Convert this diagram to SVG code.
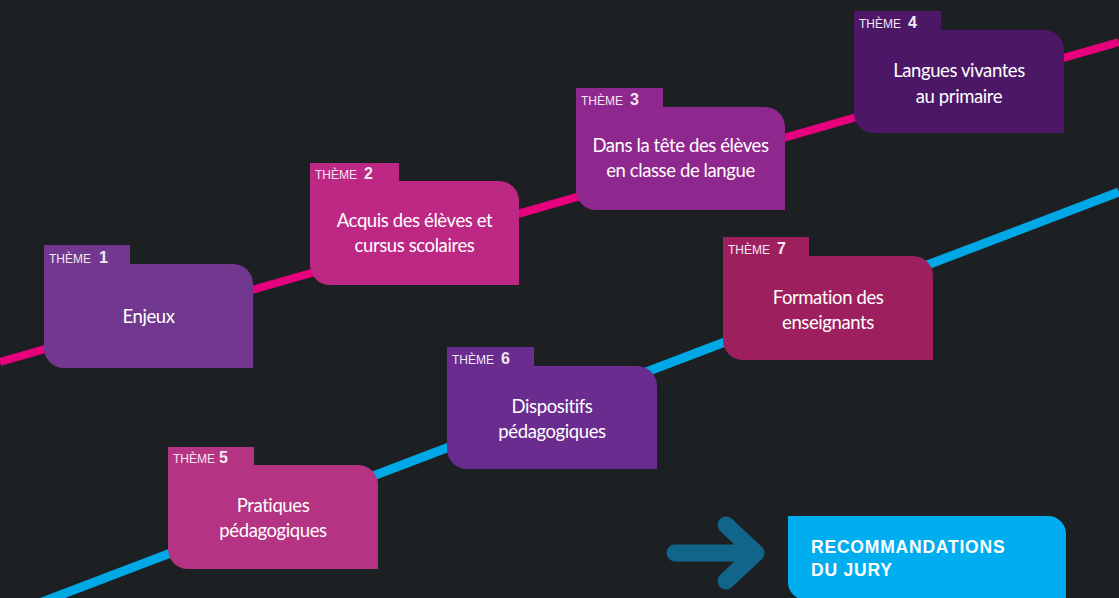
<svg xmlns="http://www.w3.org/2000/svg" width="1119" height="598" viewBox="0 0 1119 598">
<style>
.tab{font-family:"Liberation Sans",Arial,sans-serif;font-size:12px;fill:#f3e9f2}
.num{font-family:"Liberation Sans",Arial,sans-serif;font-size:16px;font-weight:bold;fill:#f3e9f2}
.title{font-family:Lato,"Liberation Sans",sans-serif;font-size:18.5px;fill:#ffffff;text-anchor:middle;letter-spacing:-0.4px}
.reco{font-family:"Liberation Sans",Arial,sans-serif;font-size:17.5px;font-weight:bold;fill:#ffffff;letter-spacing:0.8px}
</style>
<rect x="0" y="0" width="1119" height="598" fill="#1d2023"/>
<g id="connectors">
<line x1="0" y1="362" x2="1119" y2="42" stroke="#e6007e" stroke-width="8"/>
<line x1="0" y1="618" x2="1119" y2="192" stroke="#00a9e6" stroke-width="9"/>
<path d="M675,553 H754 M726,525 L756,553 L726,581" fill="none" stroke="#11658a" stroke-width="17" stroke-linecap="round" stroke-linejoin="round"/>
</g>
<g id="theme1">
<path d="M44,245 H130 V264 H233 A20,20 0 0 1 253,284 V368 H64 A20,20 0 0 1 44,348 Z" fill="#72378f"/>
<text class="tab" x="49" y="263">THÈME</text><text class="num" x="99" y="263">1</text>
<text class="title" x="148.5" y="323">Enjeux</text>
</g>
<g id="theme2">
<path d="M310,163 H399 V181 H499 A20,20 0 0 1 519,201 V285 H330 A20,20 0 0 1 310,265 Z" fill="#bd2885"/>
<text class="tab" x="315" y="179">THÈME</text><text class="num" x="364" y="179">2</text>
<text class="title" x="414.5" y="227">Acquis des élèves et</text>
<text class="title" x="414.5" y="252">cursus scolaires</text>
</g>
<g id="theme3">
<path d="M576,88 H663 V107 H765 A20,20 0 0 1 785,127 V210 H596 A20,20 0 0 1 576,190 Z" fill="#8f288e"/>
<text class="tab" x="581" y="105">THÈME</text><text class="num" x="630" y="105">3</text>
<text class="title" x="680.5" y="152">Dans la tête des élèves</text>
<text class="title" x="680.5" y="177">en classe de langue</text>
</g>
<g id="theme4">
<path d="M854,11 H941 V30 H1044 A20,20 0 0 1 1064,50 V133 H874 A20,20 0 0 1 854,113 Z" fill="#4d1767"/>
<text class="tab" x="859" y="28">THÈME</text><text class="num" x="908" y="28">4</text>
<text class="title" x="959" y="77">Langues vivantes</text>
<text class="title" x="959" y="103">au primaire</text>
</g>
<g id="theme5">
<path d="M168,447 H254 V465 H358 A20,20 0 0 1 378,485 V569 H188 A20,20 0 0 1 168,549 Z" fill="#b53383"/>
<text class="tab" x="173" y="463">THÈME</text><text class="num" x="219" y="463">5</text>
<text class="title" x="273" y="512">Pratiques</text>
<text class="title" x="273" y="537">pédagogiques</text>
</g>
<g id="theme6">
<path d="M447,347 H534 V366 H637 A20,20 0 0 1 657,386 V469 H467 A20,20 0 0 1 447,449 Z" fill="#6a2d8f"/>
<text class="tab" x="452" y="364">THÈME</text><text class="num" x="501" y="364">6</text>
<text class="title" x="552" y="412.5">Dispositifs</text>
<text class="title" x="552" y="437.5">pédagogiques</text>
</g>
<g id="theme7">
<path d="M723,237 H809 V256 H913 A20,20 0 0 1 933,276 V360 H743 A20,20 0 0 1 723,340 Z" fill="#9e1f5e"/>
<text class="tab" x="728" y="254">THÈME</text><text class="num" x="777" y="254">7</text>
<text class="title" x="828" y="303.5">Formation des</text>
<text class="title" x="828" y="328.5">enseignants</text>
</g>
<g id="recommandations">
<path d="M788,516 H1048 A18,18 0 0 1 1066,534 V600 H806 A18,18 0 0 1 788,582 Z" fill="#00aeef"/>
<text class="reco" x="811" y="553">RECOMMANDATIONS</text>
<text class="reco" x="811" y="576">DU JURY</text>
</g>
</svg>
